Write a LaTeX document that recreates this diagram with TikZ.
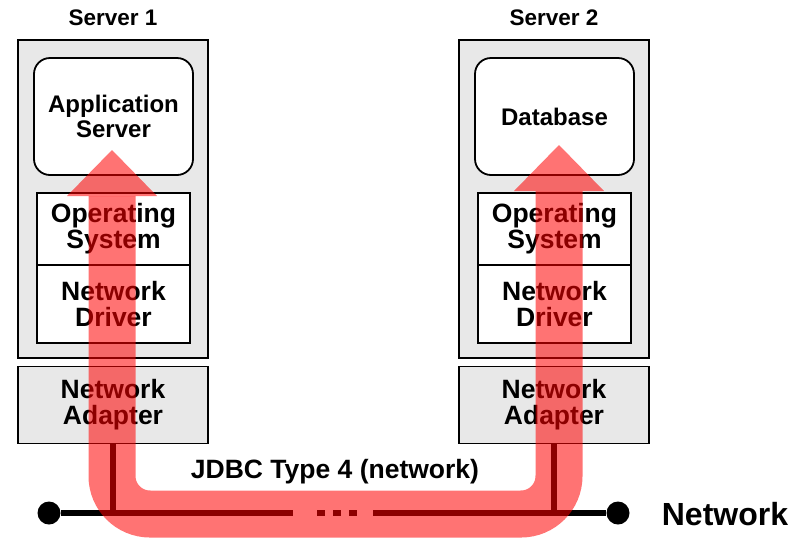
\documentclass[tikz,border=0pt]{standalone}
\usepackage{fontspec}
\setmainfont{Liberation Sans}
\usetikzlibrary{arrows.meta}
\definecolor{boxgray}{RGB}{232,232,232}
\begin{document}
\begin{tikzpicture}[x=1pt, y=-1pt,
    mybox/.style={draw, line width=1.8pt, inner sep=0pt, align=center, font=\fontsize{26.5}{26}\selectfont\bfseries},
    myserver/.style={mybox, fill=boxgray, minimum width=190pt, minimum height=318pt},
    mytop/.style={mybox, fill=white, rounded corners=16pt, minimum width=159pt, minimum height=117pt, font=\fontsize{24}{25}\selectfont\bfseries},
    mylayer/.style={mybox, fill=white, minimum width=153pt},
    myadapter/.style={mybox, fill=boxgray, minimum width=190pt, minimum height=77pt},
    mywire/.style={line width=6pt},
    mydot/.style={circle, fill=black, minimum size=23pt, inner sep=0pt},
    myflow/.style={red, line width=47pt, opacity=0.55, rounded corners=38pt,
      {Triangle[width=90pt, length=46pt, line width=0pt]}-{Triangle[width=90pt, length=46pt, line width=0pt]}}]
    \useasboundingbox (0,0) rectangle (804,539);
    % the two servers
    \foreach \i/\x/\top in {1/113/{Application\\Server}, 2/554/Database}{
      \node[myserver] (server\i) at (\x,199) {};
      \node[font=\fontsize{22.5}{22}\selectfont\bfseries] (title\i) at (\x,18) {Server \i};
      \node[mytop] (top\i) at (\x+0.5,116.5) {\top};
      \node[mylayer, minimum height=72pt] (os\i) at (\x+0.5,229) {Operating\\System};
      \node[mylayer, minimum height=78pt] (drv\i) at (\x+0.5,304) {Network\\Driver};
      \node[myadapter] (adp\i) at (\x,405) {Network\\Adapter};
    }
    % network
    \node[mydot] (netL) at (49,513) {};
    \node[mydot] (netR) at (618,513) {};
    \coordinate (gapL) at (293,513);
    \coordinate (gapR) at (373,513);
    \coordinate (dotsL) at (317,513);
    \coordinate (dotsR) at (358,513);
    \draw[mywire] (netL) -- (gapL);
    \draw[mywire] (gapR) -- (netR);
    \draw[mywire, dash pattern=on 8pt off 8pt] (dotsL) -- (dotsR);
    \draw[mywire] (adp1.south) -- (adp1.south |- netL);
    \draw[mywire] (adp2.south) -- (adp2.south |- netR);
    \node[font=\fontsize{32}{32}\selectfont\bfseries] (netlabel) at (725,514) {Network};
    \node[font=\fontsize{26.5}{26}\selectfont\bfseries] (jdbc) at (335,472) {JDBC Type 4 (network)};
    % the call path
    \coordinate (tip1) at (112,150);
    \coordinate (tip2) at (559,145);
    \coordinate (low) at (335,514);
    \draw[myflow] (tip1) |- (low) -| (tip2);
\end{tikzpicture}
\end{document}
